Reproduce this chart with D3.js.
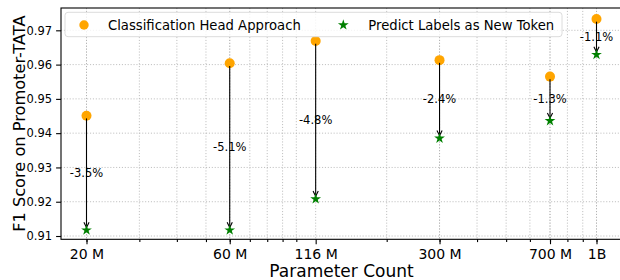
<!DOCTYPE html>
<html>
<head>
<meta charset="utf-8">
<script src="https://cdn.jsdelivr.net/npm/d3@7"></script>
<style>
  body { margin: 0; background: #fff; }
  svg { display: block; font-family: "DejaVu Sans", sans-serif; }
</style>
</head>
<body>
<svg id="chart" width="620" height="280"></svg>
<script>
// values
const params = [20e6, 60e6, 116e6, 300e6, 700e6, 1e9];
const paramLabels = ["20 M", "60 M", "116 M", "300 M", "700 M", "1B"];
const headScores = [0.9451, 0.9604, 0.9669, 0.9613, 0.9565, 0.9733];
const tokenScores = [0.9117, 0.9117, 0.9208, 0.9385, 0.9436, 0.9629];
const dropLabels = ["-3.5%", "-5.1%", "-4.8%", "-2.4%", "-1.3%", "-1.1%"];
const yTicks = [0.91, 0.92, 0.93, 0.94, 0.95, 0.96, 0.97];

const svg = d3.select("#chart");
const plotLeft = 61, plotRight = 622, plotTop = 8, plotBottom = 239.3;

// log axis with matplotlib-like 5% margins
const lmin = Math.log10(d3.min(params)), lmax = Math.log10(d3.max(params));
const pad = (lmax - lmin) * 0.05;
const x = d3.scaleLog()
    .domain([Math.pow(10, lmin - pad), Math.pow(10, lmax + pad)])
    .range([plotLeft, plotRight]);
const y = d3.scaleLinear()
    .domain([0.90904, 0.97651])
    .range([plotBottom, plotTop]);

const minorTicks = x.ticks();

// grid
const grid = svg.append("g")
    .style("stroke", "#b0b0b0")
    .style("stroke-width", 0.8)
    .style("stroke-dasharray", "1.1,1.8");
grid.selectAll("line.v")
    .data(minorTicks.concat(params))
    .join("line")
    .attr("class", "v")
    .attr("x1", d => x(d)).attr("x2", d => x(d))
    .attr("y1", plotTop).attr("y2", plotBottom);
grid.selectAll("line.h")
    .data(yTicks)
    .join("line")
    .attr("class", "h")
    .attr("x1", plotLeft).attr("x2", plotRight)
    .attr("y1", d => y(d)).attr("y2", d => y(d));

// x axis
const xAxis = svg.append("g")
    .attr("transform", `translate(0,${plotBottom})`)
    .call(d3.axisBottom(x).tickValues(minorTicks).tickSize(2.8).tickFormat(""));
const xMajor = svg.append("g")
    .attr("transform", `translate(0,${plotBottom})`)
    .call(d3.axisBottom(x).tickValues(params).tickSize(4.9).tickPadding(4.5)
        .tickFormat((d, i) => paramLabels[i]));
[xAxis, xMajor].forEach(g => {
    g.select(".domain").remove();
    g.selectAll(".tick line").attr("stroke", "#000").attr("stroke-width", 1.1);
});
xMajor.selectAll(".tick text")
    .attr("font-size", "14px")
    .attr("font-family", "DejaVu Sans")
    .attr("fill", "#000");

// y axis
const yAxis = svg.append("g")
    .attr("transform", `translate(${plotLeft},0)`)
    .call(d3.axisLeft(y).tickValues(yTicks).tickSize(4.9).tickPadding(4)
        .tickFormat(d3.format(".2f")));
yAxis.select(".domain").remove();
yAxis.selectAll(".tick line").attr("stroke", "#000").attr("stroke-width", 1.1);
yAxis.selectAll(".tick text")
    .attr("font-size", "11.5px")
    .attr("font-family", "DejaVu Sans")
    .attr("fill", "#000");

// frame (right spine falls just outside the picture)
svg.append("rect")
    .attr("x", plotLeft).attr("y", plotTop)
    .attr("width", plotRight - plotLeft).attr("height", plotBottom - plotTop)
    .attr("fill", "none").attr("stroke", "#000").attr("stroke-width", 1.1);

const rows = params.map((p, i) => ({
    p: p, head: headScores[i], token: tokenScores[i], label: dropLabels[i]
}));

// head approach markers
svg.append("g").selectAll("circle")
    .data(rows)
    .join("circle")
    .attr("cx", d => x(d.p))
    .attr("cy", d => y(d.head))
    .attr("r", 5)
    .attr("fill", "orange");

// arrows
const arrows = svg.append("g")
    .attr("stroke", "#000")
    .attr("stroke-width", 1.1)
    .attr("fill", "none");
arrows.selectAll("line")
    .data(rows)
    .join("line")
    .attr("x1", d => x(d.p)).attr("x2", d => x(d.p))
    .attr("y1", d => y(d.head) + 2.7)
    .attr("y2", d => y(d.token) - 2.7);
arrows.selectAll("path")
    .data(rows)
    .join("path")
    .attr("d", d => {
        const cx = x(d.p), tip = y(d.token) - 2.7;
        return `M${cx - 2.6},${tip - 5.2}L${cx},${tip}L${cx + 2.6},${tip - 5.2}`;
    });

// new token markers
const star = d3.symbol().type(d3.symbolStar).size(36);
svg.append("g").selectAll("path")
    .data(rows)
    .join("path")
    .attr("transform", d => `translate(${x(d.p)},${y(d.token)})`)
    .attr("d", star)
    .attr("fill", "green");

// drop labels at the middle of each arrow
svg.append("g").selectAll("text")
    .data(rows)
    .join("text")
    .attr("x", d => x(d.p))
    .attr("y", d => y((d.head + d.token) / 2))
    .attr("dy", "0.35em")
    .attr("text-anchor", "middle")
    .attr("font-size", "11.5px")
    .text(d => d.label);

// legend
const legend = svg.append("g");
legend.append("rect")
    .attr("x", 65).attr("y", 12.3)
    .attr("width", 497).attr("height", 24.4)
    .attr("rx", 3)
    .attr("fill", "#fff").attr("fill-opacity", 0.8)
    .attr("stroke", "#dcdcdc").attr("stroke-width", 1);
legend.append("circle")
    .attr("cx", 84).attr("cy", 25).attr("r", 4.7)
    .attr("fill", "orange");
legend.append("text")
    .attr("x", 108).attr("y", 29.6)
    .attr("font-size", "13.2px")
    .text("Classification Head Approach");
legend.append("path")
    .attr("transform", "translate(343.3,25)")
    .attr("d", star)
    .attr("fill", "green");
legend.append("text")
    .attr("x", 368.3).attr("y", 29.6)
    .attr("font-size", "13.2px")
    .text("Predict Labels as New Token");

// axis titles
svg.append("text")
    .attr("x", (plotLeft + plotRight) / 2)
    .attr("y", 276.5)
    .attr("text-anchor", "middle")
    .attr("font-size", "17px")
    .text("Parameter Count");
svg.append("text")
    .attr("transform", `translate(25,${(plotTop + plotBottom) / 2}) rotate(-90)`)
    .attr("text-anchor", "middle")
    .attr("font-size", "16.2px")
    .text("F1 Score on Promoter-TATA");
</script>
</body>
</html>
